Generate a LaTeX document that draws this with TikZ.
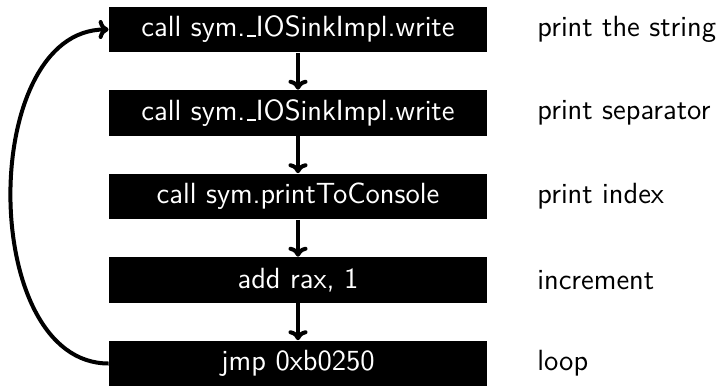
\documentclass[tikz,border=0pt]{standalone}
\usetikzlibrary{arrows.meta}
\newcommand\lowbar{\leavevmode\kern.06em\rule[-0.01em]{.3em}{.07em}}
\begin{document}
\begin{tikzpicture}[x=0.5pt,y=-0.5pt,
  font=\sffamily\fontsize{14.6}{17}\selectfont,
  codebox/.style={fill=black,text=white,minimum width=189pt,minimum height=22.9pt,inner sep=0pt},
  note/.style={anchor=west,inner sep=0pt,text=black},
  flow/.style={line width=2pt,-{To[length=5pt,width=9.5pt]}}]
\useasboundingbox (0,0) rectangle (722,386);
\node[codebox] (b1) at (298,29.5) {call sym.\lowbar IOSinkImpl.write};
\node[codebox] (b2) at (298,113) {call sym.\lowbar IOSinkImpl.write};
\node[codebox] (b3) at (298,196.5) {call sym.printToConsole};
\node[codebox] (b4) at (298,280) {add rax, 1};
\node[codebox] (b5) at (298,363.5) {jmp 0xb0250};
\node[note] (n1) at (537,29.5) {print the string};
\node[note] (n2) at (537,113) {print separator};
\node[note] (n3) at (537,196.5) {print index};
\node[note] (n4) at (537,280) {increment};
\node[note] (n5) at (537,363.5) {loop};
\draw[flow] (b1) -- (b2);
\draw[flow] (b2) -- (b3);
\draw[flow] (b3) -- (b4);
\draw[flow] (b4) -- (b5);
\draw[flow] (b5.west) to[out=180,in=180] (b1.west);
\end{tikzpicture}
\end{document}
